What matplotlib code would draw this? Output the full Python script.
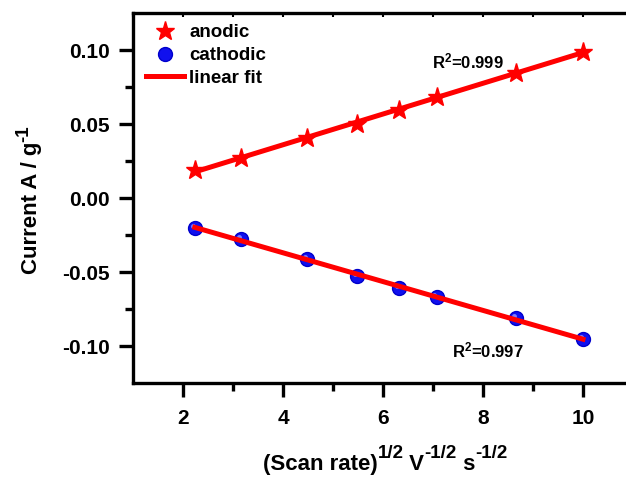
import numpy as np
import matplotlib.pyplot as plt
from matplotlib.transforms import offset_copy

plt.rcParams['font.family'] = ['Liberation Sans', 'DejaVu Sans']
plt.rcParams['font.weight'] = 'bold'
plt.rcParams['mathtext.fontset'] = 'custom'
plt.rcParams['mathtext.rm'] = 'Liberation Sans:bold'
plt.rcParams['mathtext.bf'] = 'Liberation Sans:bold'
plt.rcParams['mathtext.it'] = 'Liberation Sans:bold'
plt.rcParams['mathtext.default'] = 'bf'

# square root of scan rate (5,10,20,30,40,50,75,100 mV/s)
scan_sqrt = [2.236, 3.162, 4.472, 5.477, 6.325, 7.071, 8.660, 10.0]
anodic = [0.0188, 0.0268, 0.0405, 0.0503, 0.0597, 0.0685, 0.0846, 0.0985]
cathodic = [-0.0200, -0.0277, -0.0410, -0.0530, -0.0608, -0.0670, -0.0810, -0.0955]
r2_labels = ['R$^{2}$=0.999', 'R$^{2}$=0.997']
xlabel_parts = [('(Scan rate)', False), ('1/2', True), (' V', False), ('-1/2', True),
                (' s', False), ('-1/2', True)]
ylabel_parts = [('Current A / g', False), ('-1', True)]

x = np.array(scan_sqrt)

W, H = 626, 478
fig = plt.figure(figsize=(W / 100, H / 100), dpi=100)
ax = fig.add_axes([133/W, 95/H, 500/W, 370/H])
renderer = fig.canvas.get_renderer()


def rich_label(parts, cx, cy, vertical=False, size=16, sup_size=13, rise=13):
    # lay text pieces out one after another, superscripts raised; (cx, cy) in pixels
    # from the top-left, cx/cy = centre along the text and baseline position
    made = []
    for s, sup in parts:
        t = fig.text(0, 0, s, fontsize=sup_size if sup else size, fontweight='bold',
                     ha='left', va='baseline', rotation=90 if vertical else 0,
                     rotation_mode='anchor')
        bb = t.get_window_extent(renderer)
        made.append((t, sup, bb.height if vertical else bb.width))
    total = sum(m[2] for m in made)
    pos = -total / 2
    for t, sup, adv in made:
        r = rise if sup else 0
        if vertical:
            px, py = cx - r, cy - pos
        else:
            px, py = cx + pos, cy - r
        t.set_position((px / W, 1 - py / H))
        pos += adv


# linear fits
pa = np.polyfit(x, anodic, 1)
pc = np.polyfit(x, cathodic, 1)
xf = np.array([x.min(), x.max()])
fit_line, = ax.plot(xf, np.polyval(pa, xf), color='#ff0000', lw=3.6, zorder=2)
ax.plot(xf, np.polyval(pc, xf), color='#ff0000', lw=3.6, zorder=4)

# data points
stars, = ax.plot(x, anodic, '*', color='#ff0000', ms=14, mec='#ff0000', zorder=3)
balls, = ax.plot(x, cathodic, 'o', color='#1010ee', ms=10, mec='#0000cc', mew=1, zorder=3)
hl = offset_copy(ax.transData, fig=fig, x=-1.5, y=1.5, units='points')
ax.plot(x, cathodic, 'o', color='#8c8cff', ms=3.5, mew=0, transform=hl, zorder=3, alpha=0.9)

ax.text(7.7, 0.092, r2_labels[0], fontsize=12, fontweight='bold', ha='center', va='center')
ax.text(8.1, -0.103, r2_labels[1], fontsize=12, fontweight='bold', ha='center', va='center')

ax.set_xlim(1, 11)
ax.set_ylim(-0.125, 0.125)
ax.set_xticks([2, 4, 6, 8, 10])
ax.set_xticks([3, 5, 7, 9], minor=True)
ax.set_yticks([-0.10, -0.05, 0.0, 0.05, 0.10])
ax.set_yticklabels(['-0.10', '-0.05', '0.00', '0.05', '0.10'])
ax.set_yticks([-0.075, -0.025, 0.025, 0.075], minor=True)

for s in ax.spines.values():
    s.set_linewidth(2.4)
ax.spines['right'].set_visible(False)

ax.tick_params(axis='both', which='major', direction='out', length=10, width=2.4,
               labelsize=15)
ax.tick_params(axis='x', which='major', pad=9)
ax.tick_params(axis='y', which='major', pad=7)
ax.tick_params(axis='both', which='minor', direction='out', length=5.5, width=2.4)
ax.tick_params(axis='x', top=False)

# small ticks on the top spine
top = ax.secondary_xaxis('top')
top.set_xticks(range(1, 12))
top.tick_params(direction='in', length=3, width=1.5, labeltop=False)
top.spines['top'].set_visible(False)

# axis titles with full-size superscripts
rich_label(xlabel_parts, 385, 470, size=16, sup_size=13.5, rise=12)
rich_label(ylabel_parts, 37, 200, vertical=True, size=16, sup_size=13.5, rise=9)

ax.legend([stars, balls, fit_line], ['anodic', 'cathodic', 'linear fit'],
          loc='upper left', frameon=False, fontsize=13.5, handlelength=2.0,
          handletextpad=0.3, labelspacing=0.3, borderaxespad=0.2,
          bbox_to_anchor=(0.004, 1.0))

fig.savefig('out.png', dpi=100)
